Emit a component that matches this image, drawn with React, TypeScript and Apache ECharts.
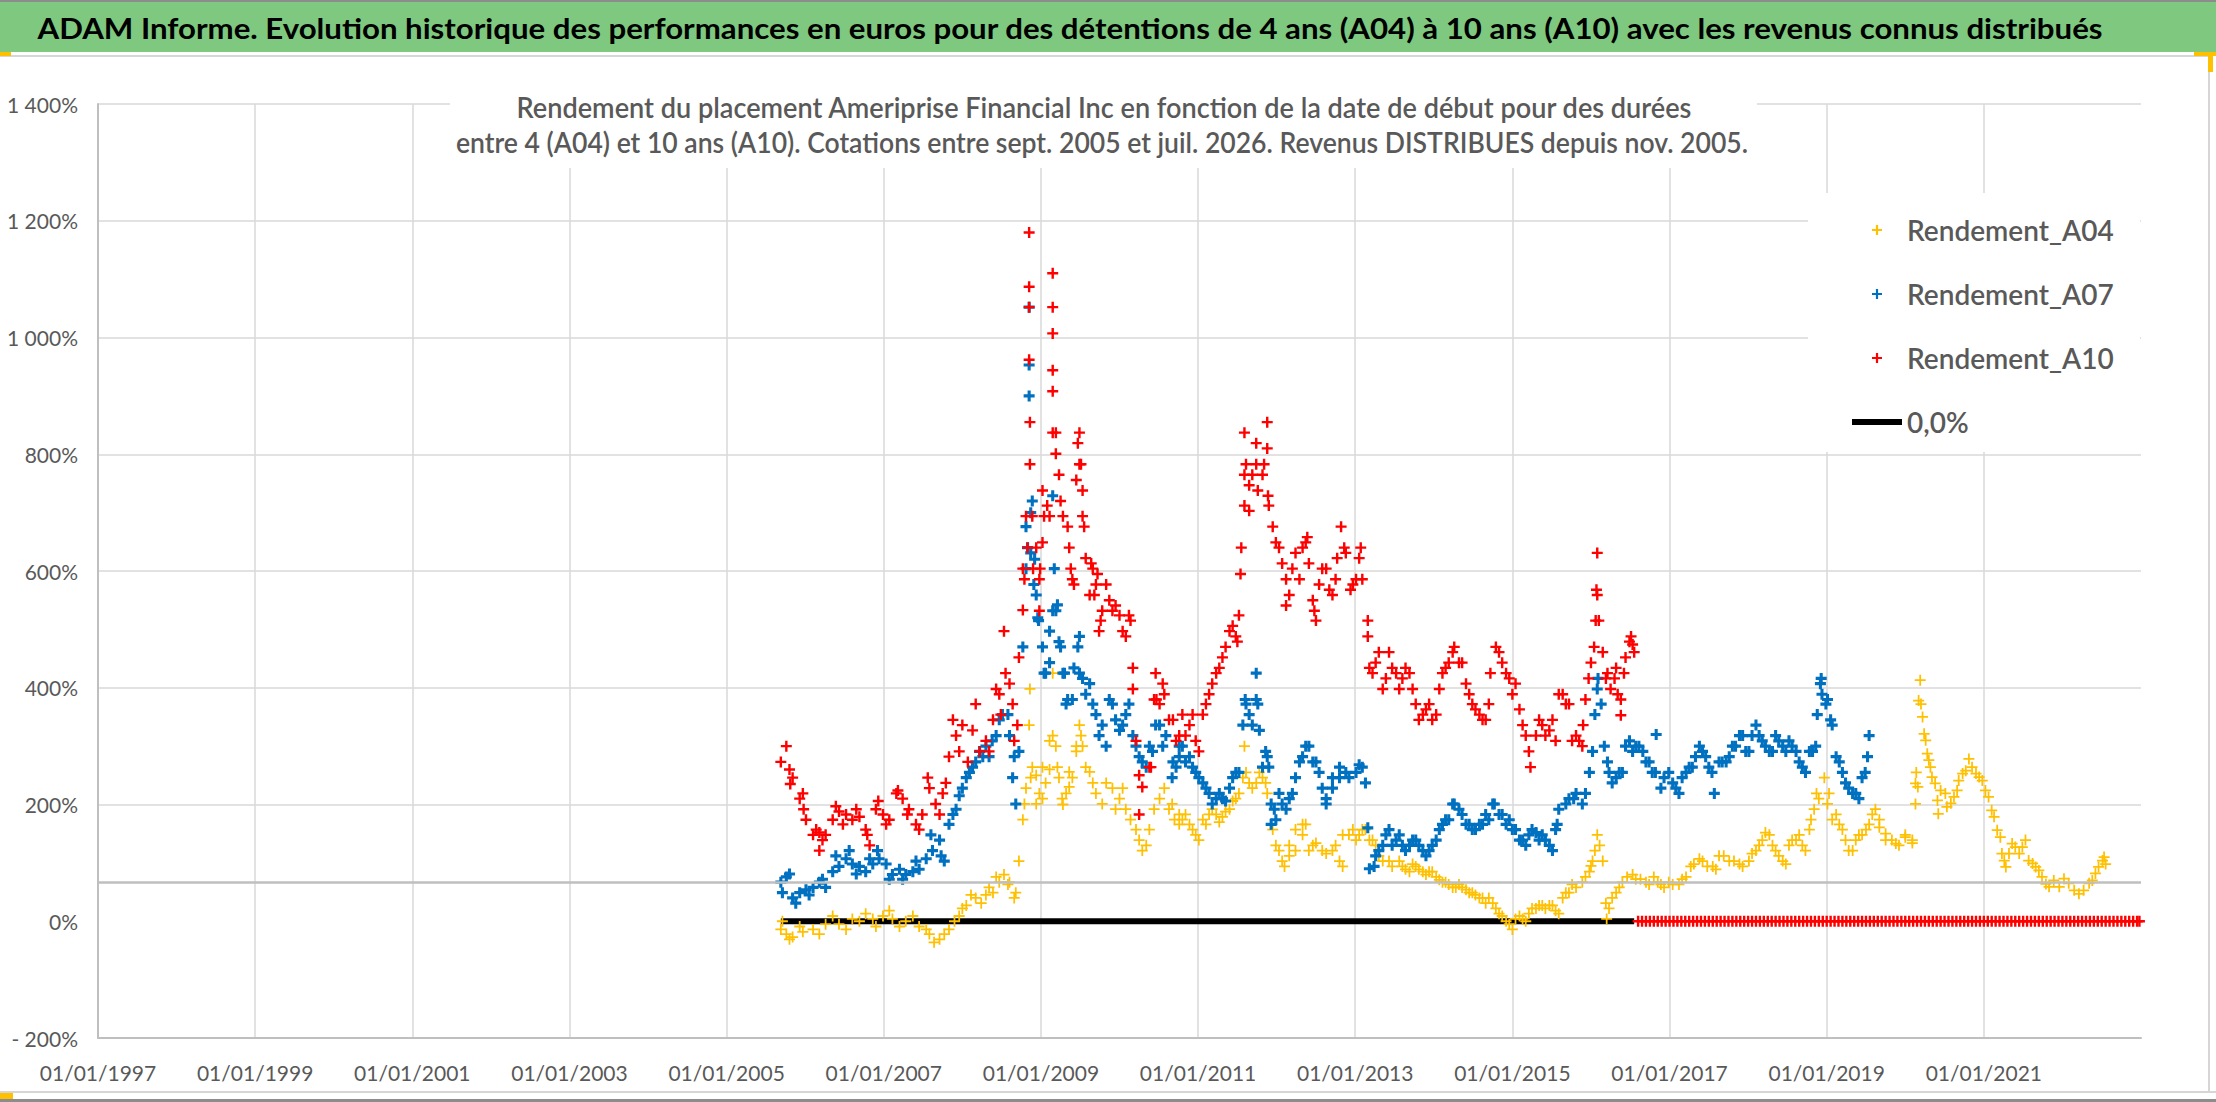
import { useEffect, useRef } from 'react';
import * as echarts from 'echarts';

// Rendement (en %) par date de début: [année décimale, valeur]
const A04: [number, number][] = [
  [2005.69, -14], [2005.76, -22], [2005.84, -27], [2005.97, -18], [2006.1, -14], [2006.26, -5], [2006.43, -5],
  [2006.6, 4], [2006.69, 0], [2006.86, 4], [2006.99, 9], [2007.11, 4], [2007.28, 0], [2007.45, -9], [2007.58, -22],
  [2007.71, -31], [2007.83, -14], [2007.96, 9], [2008.05, 27], [2008.17, 40], [2008.3, 45], [2008.39, 49],
  [2008.47, 67], [2008.53, 80], [2008.6, 67], [2008.68, 49], [2008.72, 103], [2008.77, 174], [2008.81, 228],
  [2008.85, 336], [2008.86, 398], [2008.89, 264], [2008.94, 250], [2008.98, 219], [2009.02, 210], [2009.06, 237],
  [2009.11, 260], [2009.15, 425], [2009.15, 318], [2009.19, 300], [2009.23, 246], [2009.28, 200], [2009.32, 219],
  [2009.36, 230], [2009.4, 246], [2009.45, 300], [2009.49, 336], [2009.53, 300], [2009.57, 264], [2009.66, 237],
  [2009.78, 201], [2009.91, 228], [2010.0, 210], [2010.08, 192], [2010.21, 157], [2010.29, 121], [2010.38, 157],
  [2010.51, 210], [2010.63, 192], [2010.76, 183], [2010.8, 174], [2010.89, 166], [2010.97, 148], [2011.06, 174],
  [2011.14, 183], [2011.23, 183], [2011.31, 179], [2011.4, 192], [2011.48, 210], [2011.57, 246], [2011.59, 300],
  [2011.65, 237], [2011.74, 237], [2011.82, 246], [2011.88, 219], [2011.95, 157], [2012.03, 121], [2012.1, 94],
  [2012.16, 112], [2012.24, 121], [2012.33, 148], [2012.37, 166], [2012.46, 130], [2012.58, 121], [2012.71, 121],
  [2012.8, 103], [2012.84, 148], [2012.92, 148], [2013.01, 139], [2013.09, 157], [2013.18, 139], [2013.26, 130],
  [2013.35, 103], [2013.47, 94], [2013.6, 94], [2013.69, 85], [2013.77, 94], [2013.86, 85], [2013.94, 85],
  [2014.03, 76], [2014.11, 67], [2014.19, 63], [2014.28, 58], [2014.36, 58], [2014.45, 49], [2014.53, 45],
  [2014.62, 40], [2014.7, 40], [2014.79, 22], [2014.87, 9], [2014.96, -5], [2015.04, 4], [2015.13, 4],
  [2015.21, 13], [2015.3, 22], [2015.38, 27], [2015.47, 27], [2015.55, 18], [2015.64, 40], [2015.72, 49],
  [2015.81, 58], [2015.93, 76], [2016.0, 95], [2016.02, 103], [2016.08, 148], [2016.15, 103], [2016.19, 31],
  [2016.2, 4], [2016.27, 40], [2016.36, 58], [2016.46, 76], [2016.57, 72], [2016.7, 67], [2016.8, 76],
  [2016.89, 63], [2016.99, 67], [2017.12, 63], [2017.21, 76], [2017.31, 98], [2017.42, 103], [2017.55, 94],
  [2017.63, 112], [2017.76, 103], [2017.89, 98], [2018.01, 103], [2018.1, 121], [2018.18, 139], [2018.27, 148],
  [2018.35, 121], [2018.44, 103], [2018.52, 130], [2018.61, 139], [2018.69, 130], [2018.78, 157], [2018.84, 192],
  [2018.9, 210], [2018.97, 246], [2019.03, 219], [2019.12, 183], [2019.2, 157], [2019.28, 121], [2019.37, 139],
  [2019.45, 148], [2019.54, 166], [2019.62, 192], [2019.67, 161], [2019.75, 150], [2019.88, 133], [2020.0, 144],
  [2020.09, 139], [2020.13, 201], [2020.14, 255], [2020.16, 230], [2020.19, 413], [2020.2, 372], [2020.22, 350],
  [2020.26, 310], [2020.3, 276], [2020.34, 247], [2020.41, 207], [2020.42, 184], [2020.51, 219], [2020.58, 202],
  [2020.66, 224], [2020.73, 253], [2020.81, 278], [2020.9, 253], [2020.98, 241], [2021.06, 213], [2021.13, 179],
  [2021.21, 144], [2021.26, 104], [2021.32, 116], [2021.4, 127], [2021.49, 127], [2021.57, 104], [2021.66, 93],
  [2021.74, 76], [2021.83, 59], [2021.96, 59], [2022.08, 65], [2022.21, 47], [2022.34, 65], [2022.42, 82],
  [2022.51, 104], [2022.55, 98],
];

// Relevés complémentaires sur les bords de la bande de points A04
const A04_EDGE: [number, number][] = [
  [2005.71, 0], [2005.8, -31], [2005.93, -9], [2006.18, -22], [2006.35, 9], [2006.52, -14], [2006.77, 13],
  [2006.9, -9], [2007.07, 18], [2007.2, -9], [2007.37, 9], [2007.54, -14], [2007.64, -36], [2007.77, -22],
  [2007.9, 0], [2008.0, 22], [2008.11, 45], [2008.24, 31], [2008.34, 58], [2008.43, 76], [2008.58, 63],
  [2008.66, 40], [2008.79, 201], [2008.87, 246], [2008.94, 201], [2009.02, 264], [2009.11, 309], [2009.21, 264],
  [2009.27, 210], [2009.36, 256], [2009.45, 291], [2009.51, 318], [2009.62, 256], [2009.7, 219], [2009.83, 237],
  [2009.95, 192], [2010.04, 228], [2010.14, 174], [2010.25, 139], [2010.34, 130], [2010.44, 192], [2010.57, 228],
  [2010.7, 174], [2010.67, 201], [2010.76, 166], [2010.84, 183], [2010.93, 157], [2011.01, 139], [2011.1, 166],
  [2011.18, 192], [2011.27, 170], [2011.35, 188], [2011.44, 206], [2011.52, 219], [2011.61, 255], [2011.69, 228],
  [2011.78, 255], [2011.86, 237], [2011.99, 130], [2012.07, 103], [2012.16, 130], [2012.24, 157], [2012.33, 166],
  [2012.41, 121], [2012.5, 134], [2012.63, 116], [2012.75, 130], [2012.84, 94], [2012.97, 157], [2013.05, 148],
  [2013.13, 157], [2013.22, 139], [2013.3, 112], [2013.43, 103], [2013.56, 103], [2013.64, 89], [2013.73, 98],
  [2013.81, 89], [2013.9, 80], [2013.98, 85], [2014.07, 71], [2014.15, 67], [2014.24, 58], [2014.32, 63],
  [2014.41, 54], [2014.49, 49], [2014.58, 40], [2014.66, 31], [2014.75, 31], [2014.83, 13], [2014.92, 0],
  [2015.0, -14], [2015.09, 9], [2015.17, 0], [2015.25, 22], [2015.34, 27], [2015.42, 22], [2015.51, 27],
  [2015.59, 13], [2015.68, 49], [2015.76, 63], [2015.89, 67], [2015.98, 85], [2016.05, 121], [2016.11, 130],
  [2016.23, 22], [2016.32, 49], [2016.4, 67], [2016.53, 80], [2016.63, 72], [2016.74, 63], [2016.85, 67],
  [2016.93, 58], [2017.04, 63], [2017.16, 72], [2017.27, 94], [2017.38, 107], [2017.48, 94], [2017.59, 89],
  [2017.69, 112], [2017.82, 103], [2017.93, 94], [2018.05, 116], [2018.14, 130], [2018.22, 152], [2018.31, 130],
  [2018.39, 112], [2018.48, 98], [2018.56, 139], [2018.65, 148], [2018.73, 121], [2018.8, 174], [2018.87, 219],
  [2019.01, 201], [2019.07, 174], [2019.16, 166], [2019.24, 139], [2019.33, 121], [2019.41, 148], [2019.5, 157],
  [2019.58, 183], [2019.67, 174], [2019.75, 139], [2019.83, 139], [2019.92, 130], [2020.0, 148], [2020.09, 134],
  [2020.13, 236], [2020.17, 378], [2020.24, 321], [2020.28, 287], [2020.32, 264], [2020.38, 236], [2020.45, 224],
  [2020.53, 196], [2020.62, 213], [2020.68, 241], [2020.77, 258], [2020.85, 264], [2020.94, 247], [2021.02, 224],
  [2021.1, 190], [2021.17, 156], [2021.23, 116], [2021.28, 93], [2021.36, 133], [2021.45, 116], [2021.53, 139],
  [2021.62, 99], [2021.7, 87], [2021.79, 64], [2021.89, 70], [2022.02, 73], [2022.15, 53], [2022.27, 53],
  [2022.38, 70], [2022.46, 93], [2022.53, 110],
];

const A07: [number, number][] = [
  [2005.69, 67], [2005.76, 76], [2005.84, 40], [2005.93, 49], [2006.01, 54], [2006.1, 58], [2006.18, 67],
  [2006.26, 58], [2006.35, 85], [2006.43, 94], [2006.52, 107], [2006.6, 98], [2006.69, 94], [2006.77, 85],
  [2006.86, 98], [2006.94, 107], [2007.03, 98], [2007.11, 80], [2007.2, 89], [2007.28, 80], [2007.37, 85],
  [2007.45, 89], [2007.54, 107], [2007.62, 121], [2007.71, 139], [2007.77, 103], [2007.83, 166], [2007.92, 192],
  [2008.0, 228], [2008.09, 255], [2008.17, 273], [2008.26, 282], [2008.34, 282], [2008.43, 318], [2008.51, 354],
  [2008.6, 318], [2008.64, 246], [2008.68, 201], [2008.72, 291], [2008.77, 470], [2008.81, 676], [2008.81, 604],
  [2008.83, 640], [2008.85, 1052], [2008.85, 953], [2008.85, 900], [2008.87, 700], [2008.89, 720], [2008.92, 620],
  [2008.94, 559], [2008.96, 520], [2009.02, 470], [2009.06, 425], [2009.11, 443], [2009.15, 729], [2009.15, 532],
  [2009.19, 532], [2009.23, 479], [2009.28, 425], [2009.32, 372], [2009.4, 380], [2009.49, 488], [2009.49, 425],
  [2009.57, 389], [2009.66, 372], [2009.74, 318], [2009.83, 300], [2009.91, 372], [2010.0, 327], [2010.08, 354],
  [2010.17, 318], [2010.25, 282], [2010.34, 264], [2010.42, 291], [2010.51, 336], [2010.59, 318], [2010.68, 273],
  [2010.76, 282], [2010.8, 300], [2010.89, 282], [2010.97, 255], [2011.06, 237], [2011.14, 219], [2011.23, 210],
  [2011.31, 210], [2011.4, 228], [2011.48, 255], [2011.57, 336], [2011.6, 380], [2011.65, 354], [2011.74, 380],
  [2011.74, 425], [2011.78, 327], [2011.82, 264], [2011.88, 282], [2011.93, 201], [2011.93, 166], [2011.99, 174],
  [2012.07, 201], [2012.16, 210], [2012.24, 246], [2012.33, 282], [2012.41, 300], [2012.5, 273], [2012.58, 228],
  [2012.63, 201], [2012.71, 228], [2012.8, 246], [2012.88, 255], [2013.01, 255], [2013.09, 264], [2013.13, 237],
  [2013.16, 160], [2013.18, 90], [2013.26, 112], [2013.35, 130], [2013.43, 157], [2013.52, 139], [2013.6, 130],
  [2013.69, 130], [2013.77, 139], [2013.86, 121], [2013.94, 121], [2014.03, 139], [2014.11, 166], [2014.19, 174],
  [2014.26, 201], [2014.36, 183], [2014.45, 166], [2014.53, 157], [2014.62, 166], [2014.7, 174], [2014.77, 201],
  [2014.87, 183], [2014.96, 174], [2015.04, 157], [2015.13, 139], [2015.21, 148], [2015.3, 152], [2015.38, 148],
  [2015.47, 130], [2015.55, 157], [2015.59, 192], [2015.72, 210], [2015.81, 219], [2015.93, 219], [2016.02, 291],
  [2016.08, 398], [2016.09, 416], [2016.13, 372], [2016.17, 300], [2016.23, 255], [2016.32, 246], [2016.4, 255],
  [2016.49, 309], [2016.57, 300], [2016.66, 291], [2016.74, 273], [2016.82, 255], [2016.83, 320], [2016.89, 228],
  [2016.99, 255], [2017.08, 228], [2017.16, 246], [2017.25, 264], [2017.33, 282], [2017.42, 291], [2017.5, 264],
  [2017.57, 219], [2017.63, 273], [2017.72, 273], [2017.8, 300], [2017.89, 318], [2017.97, 291], [2018.05, 318],
  [2018.1, 336], [2018.18, 309], [2018.27, 291], [2018.35, 318], [2018.44, 300], [2018.52, 309], [2018.61, 291],
  [2018.69, 264], [2018.78, 291], [2018.86, 300], [2018.92, 407], [2018.93, 416], [2018.99, 372], [2019.05, 345],
  [2019.12, 282], [2019.2, 255], [2019.28, 228], [2019.37, 219], [2019.45, 246], [2019.52, 282], [2019.54, 318],
];

const A07_EDGE: [number, number][] = [
  [2005.71, 49], [2005.8, 81], [2005.88, 31], [2006.05, 45], [2006.22, 72], [2006.39, 112], [2006.56, 121],
  [2006.65, 81], [2006.82, 107], [2006.92, 121], [2007.07, 72], [2007.24, 72], [2007.41, 103], [2007.6, 148],
  [2007.73, 112], [2007.88, 183], [2007.96, 215], [2008.05, 246], [2008.13, 264], [2008.22, 291], [2008.3, 300],
  [2008.38, 309], [2008.47, 345], [2008.58, 354], [2008.66, 282], [2008.87, 631], [2008.91, 577], [2008.97, 515],
  [2009.04, 425], [2009.11, 497], [2009.17, 604], [2009.21, 542], [2009.25, 470], [2009.3, 425], [2009.34, 380],
  [2009.42, 434], [2009.47, 470], [2009.53, 416], [2009.62, 407], [2009.7, 354], [2009.78, 336], [2009.87, 380],
  [2009.95, 345], [2010.04, 336], [2010.12, 372], [2010.21, 300], [2010.29, 273], [2010.38, 300], [2010.46, 336],
  [2010.55, 300], [2010.72, 264], [2010.67, 246], [2010.76, 300], [2010.84, 273], [2010.93, 264], [2011.01, 246],
  [2011.1, 228], [2011.18, 201], [2011.27, 219], [2011.35, 206], [2011.44, 246], [2011.52, 255], [2011.61, 372],
  [2011.69, 336], [2011.76, 372], [2011.86, 291], [2011.9, 264], [2011.97, 192], [2012.03, 219], [2012.12, 192],
  [2012.2, 219], [2012.29, 273], [2012.37, 300], [2012.46, 273], [2012.54, 255], [2012.63, 210], [2012.71, 246],
  [2012.8, 264], [2012.92, 246], [2013.05, 268], [2013.24, 94], [2013.3, 121], [2013.39, 148], [2013.47, 130],
  [2013.56, 148], [2013.64, 121], [2013.73, 139], [2013.81, 130], [2013.9, 112], [2013.98, 130], [2014.07, 157],
  [2014.15, 174], [2014.24, 201], [2014.32, 192], [2014.41, 166], [2014.49, 157], [2014.58, 166], [2014.66, 183],
  [2014.75, 201], [2014.83, 183], [2014.92, 166], [2015.0, 157], [2015.09, 139], [2015.17, 130], [2015.25, 157],
  [2015.34, 139], [2015.42, 139], [2015.51, 121], [2015.57, 166], [2015.68, 201], [2015.78, 210], [2015.89, 201],
  [2015.98, 255], [2016.05, 354], [2016.21, 273], [2016.27, 237], [2016.36, 255], [2016.44, 300], [2016.53, 291],
  [2016.61, 300], [2016.7, 273], [2016.78, 255], [2016.93, 246], [2017.04, 237], [2017.12, 219], [2017.21, 255],
  [2017.29, 264], [2017.38, 300], [2017.46, 282], [2017.54, 255], [2017.67, 273], [2017.76, 282], [2017.84, 300],
  [2017.93, 318], [2018.01, 291], [2018.14, 318], [2018.22, 300], [2018.31, 291], [2018.39, 309], [2018.48, 291],
  [2018.56, 300], [2018.65, 273], [2018.73, 255], [2018.82, 291], [2018.88, 354], [2018.94, 389], [2019.01, 380],
  [2019.07, 336], [2019.16, 273], [2019.24, 237], [2019.33, 219], [2019.41, 210], [2019.49, 255],
];

const A10: [number, number][] = [
  [2005.69, 273], [2005.76, 300], [2005.84, 246], [2005.93, 210], [2006.01, 174], [2006.1, 148], [2006.18, 152],
  [2006.26, 148], [2006.35, 174], [2006.43, 188], [2006.52, 183], [2006.6, 174], [2006.69, 179], [2006.77, 157],
  [2006.82, 130], [2006.9, 192], [2006.99, 183], [2007.07, 174], [2007.16, 219], [2007.24, 210], [2007.32, 192],
  [2007.41, 166], [2007.49, 183], [2007.58, 228], [2007.66, 201], [2007.75, 219], [2007.83, 282], [2007.92, 318],
  [2008.0, 336], [2008.13, 327], [2008.22, 291], [2008.3, 309], [2008.39, 345], [2008.47, 389], [2008.53, 497],
  [2008.55, 425], [2008.64, 372], [2008.7, 336], [2008.72, 452], [2008.77, 533], [2008.77, 604], [2008.81, 694],
  [2008.85, 1180], [2008.85, 1087], [2008.85, 1052], [2008.85, 962], [2008.86, 855], [2008.86, 783], [2008.89, 694],
  [2008.9, 604], [2008.98, 586], [2008.98, 532], [2009.02, 738], [2009.02, 649], [2009.11, 694], [2009.15, 1110],
  [2009.15, 1052], [2009.15, 1007], [2009.15, 944], [2009.15, 908], [2009.15, 837], [2009.19, 801], [2009.23, 765],
  [2009.28, 694], [2009.36, 640], [2009.4, 586], [2009.45, 756], [2009.49, 837], [2009.49, 783], [2009.53, 738],
  [2009.53, 694], [2009.57, 622], [2009.62, 559], [2009.66, 604], [2009.7, 577], [2009.74, 497], [2009.78, 532],
  [2009.87, 550], [2009.95, 541], [2010.04, 497], [2010.12, 524], [2010.17, 434], [2010.17, 398], [2010.21, 309],
  [2010.25, 183], [2010.25, 250], [2010.29, 230], [2010.38, 264], [2010.46, 425], [2010.47, 380], [2010.55, 407],
  [2010.68, 345], [2010.76, 318], [2010.8, 354], [2010.89, 336], [2010.97, 309], [2011.06, 354], [2011.14, 389],
  [2011.23, 425], [2011.31, 452], [2011.4, 497], [2011.48, 488], [2011.52, 524], [2011.54, 595], [2011.55, 640],
  [2011.59, 712], [2011.59, 765], [2011.59, 837], [2011.65, 747], [2011.65, 703], [2011.74, 783], [2011.74, 819],
  [2011.82, 765], [2011.88, 855], [2011.88, 810], [2011.89, 729], [2011.95, 676], [2012.03, 640], [2012.12, 586],
  [2012.12, 541], [2012.2, 604], [2012.29, 586], [2012.37, 649], [2012.41, 613], [2012.46, 550], [2012.5, 515],
  [2012.58, 604], [2012.67, 568], [2012.75, 586], [2012.82, 676], [2012.88, 631], [2012.97, 577], [2013.05, 622],
  [2013.09, 586], [2013.16, 515], [2013.16, 488], [2013.18, 434], [2013.26, 443], [2013.35, 398], [2013.43, 461],
  [2013.52, 425], [2013.6, 416], [2013.69, 425], [2013.77, 372], [2013.86, 354], [2013.94, 372], [2014.03, 354],
  [2014.11, 425], [2014.19, 443], [2014.26, 470], [2014.32, 443], [2014.41, 407], [2014.49, 372], [2014.58, 354],
  [2014.66, 345], [2014.72, 425], [2014.79, 470], [2014.87, 443], [2014.96, 416], [2015.04, 407], [2015.09, 363],
  [2015.17, 318], [2015.23, 264], [2015.3, 318], [2015.38, 336], [2015.47, 327], [2015.55, 309], [2015.64, 389],
  [2015.72, 372], [2015.81, 318], [2015.85, 309], [2015.93, 380], [2016.0, 443], [2016.04, 470], [2016.08, 631],
  [2016.08, 559], [2016.1, 515], [2016.15, 461], [2016.19, 416], [2016.25, 398], [2016.32, 434], [2016.38, 380],
  [2016.38, 353], [2016.44, 452], [2016.51, 488], [2016.55, 461],
];

const A10_EDGE: [number, number][] = [
  [2005.8, 260], [2005.81, 235], [2005.97, 219], [2005.98, 192], [2006.14, 157], [2006.22, 139], [2006.18, 121],
  [2006.39, 197], [2006.48, 166], [2006.65, 192], [2006.79, 148], [2006.93, 206], [2007.03, 166], [2007.18, 224],
  [2007.3, 183], [2007.45, 157], [2007.56, 246], [2007.71, 183], [2007.79, 237], [2007.88, 345], [2007.96, 291],
  [2008.07, 273], [2008.17, 372], [2008.34, 291], [2008.43, 398], [2008.49, 354], [2008.6, 407], [2008.66, 309],
  [2008.79, 586], [2008.83, 640], [2008.94, 640], [2008.99, 604], [2009.04, 694], [2009.08, 712], [2009.19, 837],
  [2009.25, 720], [2009.34, 676], [2009.38, 604], [2009.42, 577], [2009.47, 819], [2009.51, 783], [2009.55, 676],
  [2009.64, 613], [2009.68, 559], [2009.72, 595], [2009.76, 515], [2009.83, 577], [2009.91, 532], [2010.0, 524],
  [2010.08, 488], [2010.14, 515], [2010.4, 264], [2010.44, 380], [2010.51, 372], [2010.57, 389], [2010.63, 345],
  [2010.72, 309], [2010.84, 318], [2010.93, 354], [2011.01, 291], [2011.1, 372], [2011.18, 407], [2011.27, 434],
  [2011.35, 470], [2011.44, 506], [2011.5, 479], [2011.61, 783], [2011.69, 765], [2011.76, 738], [2011.84, 783],
  [2011.9, 712], [2011.99, 649], [2012.07, 613], [2012.16, 559], [2012.24, 631], [2012.33, 640], [2012.39, 658],
  [2012.48, 532], [2012.54, 577], [2012.63, 604], [2012.71, 559], [2012.77, 622], [2012.86, 640], [2012.94, 568],
  [2013.01, 586], [2013.07, 640], [2013.22, 425], [2013.3, 461], [2013.39, 416], [2013.47, 434], [2013.56, 398],
  [2013.64, 434], [2013.73, 398], [2013.81, 345], [2013.9, 363], [2013.98, 345], [2014.07, 398], [2014.15, 434],
  [2014.24, 461], [2014.36, 443], [2014.45, 389], [2014.53, 363], [2014.62, 345], [2014.7, 372], [2014.83, 461],
  [2014.92, 425], [2015.0, 389], [2015.13, 336], [2015.21, 291], [2015.34, 345], [2015.42, 318], [2015.51, 345],
  [2015.59, 389], [2015.68, 372], [2015.76, 309], [2015.89, 300], [2015.9, 336], [2015.97, 416], [2016.06, 515],
  [2016.07, 568], [2016.21, 425], [2016.3, 416], [2016.34, 389], [2016.42, 425], [2016.49, 479], [2016.53, 474],
];

// Dates de début à partir desquelles A10 vaut 0 (durée dépassant les cotations)
const A10_ZERO_DATES = [
  2016.6, 2016.65, 2016.7, 2016.75, 2016.8, 2016.85, 2016.9, 2016.95, 2017.0, 2017.05, 2017.1, 2017.15, 2017.2,
  2017.25, 2017.3, 2017.35, 2017.4, 2017.45, 2017.5, 2017.55, 2017.6, 2017.65, 2017.7, 2017.75, 2017.8, 2017.85,
  2017.9, 2017.95, 2018.0, 2018.05, 2018.1, 2018.15, 2018.2, 2018.25, 2018.3, 2018.35, 2018.4, 2018.45, 2018.5,
  2018.55, 2018.6, 2018.65, 2018.7, 2018.75, 2018.8, 2018.85, 2018.9, 2018.95, 2019.0, 2019.05, 2019.1, 2019.15,
  2019.2, 2019.25, 2019.3, 2019.35, 2019.4, 2019.45, 2019.5, 2019.55, 2019.6, 2019.65, 2019.7, 2019.75, 2019.8,
  2019.85, 2019.9, 2019.95, 2020.0, 2020.05, 2020.1, 2020.15, 2020.2, 2020.25, 2020.3, 2020.35, 2020.4, 2020.45,
  2020.5, 2020.55, 2020.6, 2020.65, 2020.7, 2020.75, 2020.8, 2020.85, 2020.9, 2020.95, 2021.0, 2021.05, 2021.1,
  2021.15, 2021.2, 2021.25, 2021.3, 2021.35, 2021.4, 2021.45, 2021.5, 2021.55, 2021.6, 2021.65, 2021.7, 2021.75,
  2021.8, 2021.85, 2021.9, 2021.95, 2022.0, 2022.05, 2022.1, 2022.15, 2022.2, 2022.25, 2022.3, 2022.35, 2022.4,
  2022.45, 2022.5, 2022.55, 2022.6, 2022.65, 2022.7, 2022.75, 2022.8, 2022.85, 2022.9, 2022.95, 2022.98,
];

const ZERO_LINE: [number, number][] = [[2005.69, 0], [2016.55, 0]];
const AXIS_LINE_VALUE = 67;

const X_START = 1997;
const X_END = 2023;
const Y_MIN = -200;
const Y_MAX = 1400;

const TITLE =
  'ADAM Informe. Evolution historique des performances en euros pour des détentions de 4 ans (A04) à 10 ans (A10) avec les revenus connus distribués';
const SUB1 = 'Rendement du placement Ameriprise Financial Inc en fonction de la date de début pour des durées';
const SUB2 =
  'entre 4 (A04) et 10 ans (A10). Cotations entre sept. 2005 et juil. 2026. Revenus DISTRIBUES depuis nov. 2005.';

// croix « + » à branches plus ou moins épaisses
const PLUS_THIN = 'path://M4.2,0H5.8V4.2H10V5.8H5.8V10H4.2V5.8H0V4.2H4.2Z';
const PLUS = 'path://M3.9,0H6.1V3.9H10V6.1H6.1V10H3.9V6.1H0V3.9H3.9Z';
const PLUS_BOLD = 'path://M3.6,0H6.4V3.6H10V6.4H6.4V10H3.6V6.4H0V3.6H3.6Z';
const BAR = 'path://M0,0H50V6H0Z';
const GREY_TEXT = '#595959';
const GRID = '#d9d9d9';

function fitScale(text: string, font: string, target: number) {
  const ctx = document.createElement('canvas').getContext('2d');
  if (!ctx) return 1;
  ctx.font = font;
  const w = ctx.measureText(text).width;
  return w > 0 ? target / w : 1;
}

const toX = (pts: [number, number][]) => pts.map(([d, v]) => [d - X_START, v]);

export default function App() {
  const chartRef = useRef<HTMLDivElement>(null);

  useEffect(() => {
    document.body.style.margin = '0';
    if (!chartRef.current) return;
    const chart = echarts.init(chartRef.current, undefined, { renderer: 'svg' });

    const titleFont = 'bold 29px Lato';
    const subFont = '600 28px Lato';

    const scatter = (name: string, color: string, symbol: string, data: number[][]) => ({
      name,
      type: 'scatter' as const,
      symbol,
      symbolSize: 11,
      itemStyle: { color, opacity: 1 },
      data,
      z: 2,
      silent: true,
    });

    const xSplitColors = Array.from({ length: (X_END - X_START) / 2 + 1 }, (_, i) =>
      i === (X_END - X_START) / 2 ? 'rgba(0,0,0,0)' : GRID
    );
    const ySplitColors = Array.from({ length: (Y_MAX - Y_MIN) / 200 + 1 }, (_, i) =>
      i === 1 ? 'rgba(0,0,0,0)' : GRID
    );

    const option: echarts.EChartsOption = {
      animation: false,
      backgroundColor: '#ffffff',
      grid: { left: 98, right: 75, top: 104, bottom: 64 },
      xAxis: {
        type: 'value',
        min: 0,
        max: X_END - X_START,
        interval: 2,
        axisLine: { show: true, onZero: false, lineStyle: { color: '#bfbfbf', width: 2 } },
        axisTick: { show: false },
        axisLabel: {
          color: GREY_TEXT,
          fontFamily: 'Lato',
          fontSize: 21,
          margin: 24,
          showMaxLabel: false,
          formatter: (v: number) => `01/01/${X_START + v}`,
        },
        splitLine: { show: true, lineStyle: { color: xSplitColors, width: 1.5 } },
      },
      yAxis: {
        type: 'value',
        min: Y_MIN,
        max: Y_MAX,
        interval: 200,
        axisLine: { show: true, lineStyle: { color: '#bfbfbf', width: 2 } },
        axisTick: { show: false },
        axisLabel: {
          color: GREY_TEXT,
          fontFamily: 'Lato',
          fontSize: 21,
          margin: 20,
          formatter: (v: number) => {
            const s = String(Math.abs(v)).replace(/\B(?=(\d{3})+$)/g, ' ');
            return v < 0 ? `- ${s}%` : `${s}%`;
          },
        },
        splitLine: { show: true, lineStyle: { color: ySplitColors, width: 1.5 } },
      },
      legend: {
        orient: 'vertical',
        left: 1847,
        top: 208,
        itemWidth: 50,
        itemHeight: 10,
        itemGap: 30,
        selectedMode: false,
        textStyle: { color: GREY_TEXT, fontFamily: 'Lato', fontWeight: 600, fontSize: 28, lineHeight: 34 },
        data: [
          { name: 'Rendement_A04', icon: PLUS },
          { name: 'Rendement_A07', icon: PLUS },
          { name: 'Rendement_A10', icon: PLUS },
          { name: '0,0%', icon: BAR },
        ],
      },
      graphic: [
        // bandeau titre et cadre
        { type: 'rect', z: 1, shape: { x: 0, y: 0, width: 2216, height: 52 }, style: { fill: '#7ec97f' } },
        { type: 'rect', z: 1, shape: { x: 0, y: 0, width: 2216, height: 2 }, style: { fill: '#8c8c8c' } },
        { type: 'rect', z: 1, shape: { x: 0, y: 55, width: 2210, height: 2 }, style: { fill: '#d6d6d6' } },
        { type: 'rect', z: 1, shape: { x: 2208, y: 56, width: 2, height: 1036 }, style: { fill: '#d6d6d6' } },
        { type: 'rect', z: 1, shape: { x: 0, y: 1091, width: 2216, height: 2 }, style: { fill: '#d6d6d6' } },
        { type: 'rect', z: 1, shape: { x: 0, y: 1099, width: 2216, height: 3 }, style: { fill: '#8c8c8c' } },
        { type: 'rect', z: 1, shape: { x: 0, y: 52, width: 11, height: 4 }, style: { fill: '#ffc000' } },
        { type: 'rect', z: 1, shape: { x: 2194, y: 52, width: 22, height: 4 }, style: { fill: '#ffc000' } },
        { type: 'rect', z: 1, shape: { x: 2208, y: 52, width: 5, height: 20 }, style: { fill: '#ffc000' } },
        { type: 'rect', z: 1, shape: { x: 0, y: 1093, width: 13, height: 6 }, style: { fill: '#ffc000' } },
        // fonds blancs du sous-titre et de la légende
        { type: 'rect', z: 1, shape: { x: 450, y: 80, width: 1307, height: 88 }, style: { fill: '#ffffff' } },
        { type: 'rect', z: 1, shape: { x: 1808, y: 193, width: 332, height: 259 }, style: { fill: '#ffffff' } },
        {
          type: 'text',
          z: 5,
          x: 1070,
          y: 27,
          scaleX: fitScale(TITLE, titleFont, 2067),
          style: {
            text: TITLE,
            fill: '#000000',
            fontFamily: 'Lato',
            fontWeight: 'bold',
            fontSize: 29,
            align: 'center',
            verticalAlign: 'middle',
          },
        },
        {
          type: 'text',
          z: 5,
          x: 1104,
          y: 107,
          scaleX: fitScale(SUB1, subFont, 1177),
          style: {
            text: SUB1,
            fill: GREY_TEXT,
            fontFamily: 'Lato',
            fontWeight: 600,
            fontSize: 28,
            align: 'center',
            verticalAlign: 'middle',
          },
        },
        {
          type: 'text',
          z: 5,
          x: 1102,
          y: 142,
          scaleX: fitScale(SUB2, subFont, 1292),
          style: {
            text: SUB2,
            fill: GREY_TEXT,
            fontFamily: 'Lato',
            fontWeight: 600,
            fontSize: 28,
            align: 'center',
            verticalAlign: 'middle',
          },
        },
      ],
      series: [
        {
          name: '0,0%',
          type: 'line',
          data: toX(ZERO_LINE),
          symbol: 'none',
          color: '#000000',
          lineStyle: { color: '#000000', width: 6 },
          z: 1,
          silent: true,
          markLine: {
            silent: true,
            symbol: 'none',
            label: { show: false },
            lineStyle: { color: '#bfbfbf', width: 2.5, type: 'solid' },
            data: [{ yAxis: AXIS_LINE_VALUE }],
          },
        },
        scatter('Rendement_A04', '#ffc000', PLUS_THIN, toX(A04).concat(toX(A04_EDGE))),
        scatter('Rendement_A07', '#0070c0', PLUS_BOLD, toX(A07).concat(toX(A07_EDGE))),
        scatter(
          'Rendement_A10',
          '#ff0000',
          PLUS,
          toX(A10)
            .concat(toX(A10_EDGE))
            .concat(A10_ZERO_DATES.map((d) => [d - X_START, 0]))
        ),
      ],
    };

    chart.setOption(option);

    return () => {
      chart.dispose();
    };
  }, []);

  return <div ref={chartRef} style={{ width: '2216px', height: '1102px' }} />;
}
